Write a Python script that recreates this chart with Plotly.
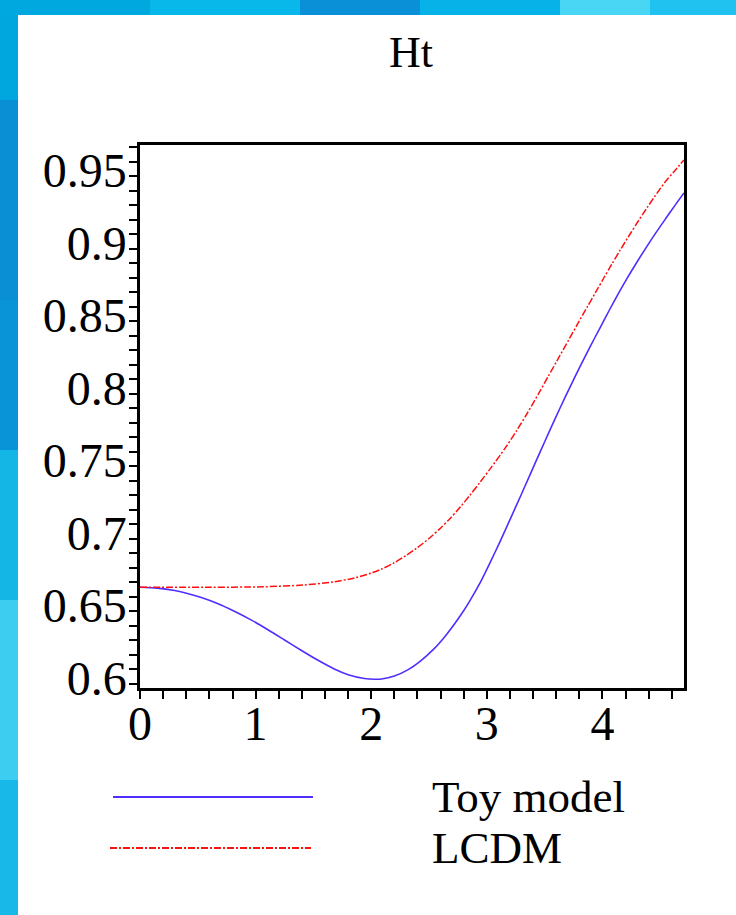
import plotly.graph_objects as go

# ---- data ----
toy_x = [0, 0.15, 0.30, 0.41, 0.53, 0.67, 0.82, 0.96, 1.11, 1.25, 1.40, 1.54, 1.68,
         1.80, 1.94, 2.03, 2.09, 2.20, 2.32, 2.42, 2.54, 2.65, 2.77, 2.85, 2.94,
         3.03, 3.11, 3.20, 3.29, 3.37, 3.46, 3.55, 3.63, 3.72, 3.81, 3.89, 3.98,
         4.06, 4.13, 4.21, 4.30, 4.39, 4.47, 4.55, 4.63, 4.705]
toy_y = [0.6667, 0.6661, 0.6644, 0.6624, 0.6596, 0.6555, 0.6500, 0.6442, 0.6372,
         0.6303, 0.6229, 0.6163, 0.6103, 0.6064, 0.6038, 0.6032, 0.6034, 0.6055,
         0.6099, 0.6154, 0.6240, 0.6340, 0.6470, 0.6570, 0.6695, 0.6840, 0.6975,
         0.7133, 0.7293, 0.7437, 0.7599, 0.7759, 0.7898, 0.8049, 0.8195, 0.8321,
         0.8458, 0.8579, 0.8681, 0.8793, 0.8912, 0.9025, 0.9121, 0.9213, 0.9304,
         0.9386]

lcdm_x = [0, 0.6, 1.06, 1.41, 1.68, 1.86, 2.00, 2.09, 2.19, 2.30, 2.39, 2.51,
          2.59, 2.68, 2.77, 2.85, 2.94, 3.03, 3.17, 3.26, 3.35, 3.46, 3.53, 3.63,
          3.71, 3.78, 3.87, 3.94, 4.01, 4.08, 4.15, 4.24, 4.31, 4.39, 4.45, 4.54,
          4.62, 4.705]
lcdm_y = [0.6667, 0.6667, 0.6670, 0.6682, 0.6705, 0.6732, 0.6765, 0.6793, 0.6832,
          0.6885, 0.6935, 0.7010, 0.7068, 0.7140, 0.7220, 0.7298, 0.7390, 0.7485,
          0.7640, 0.7750, 0.7868, 0.8020, 0.8120, 0.8262, 0.8376, 0.8476, 0.8603,
          0.8700, 0.8798, 0.8894, 0.8988, 0.9105, 0.9193, 0.9290, 0.9360, 0.9460,
          0.9535, 0.9614]

series_names = ["Toy model", "LCDM"]
title_text = "Ht"
x_ticks = [0, 1, 2, 3, 4]
y_ticks = [0.6, 0.65, 0.7, 0.75, 0.8, 0.85, 0.9, 0.95]
y_tick_labels = ["0.6", "0.65", "0.7", "0.75", "0.8", "0.85", "0.9", "0.95"]

# ---- layout geometry (pixels) ----
W, H = 736, 915
L, R, T, B = 140, 684, 145, 688
pw, ph = R - L, B - T

def px(x):
    return (x - L) / pw

def py(y):
    return (B - y) / ph

FONT = "Liberation Serif, Times New Roman, serif"
BLUE = "#4f2eff"
RED = "#ff1010"
DASH = "7px,2px,2px,2px"

fig = go.Figure()
fig.add_trace(go.Scatter(x=toy_x, y=toy_y, mode="lines", name=series_names[0],
                         line=dict(color=BLUE, width=1.6, shape="spline", smoothing=0.8),
                         showlegend=False))
fig.add_trace(go.Scatter(x=lcdm_x, y=lcdm_y, mode="lines", name=series_names[1],
                         line=dict(color=RED, width=1.5, shape="spline", smoothing=0.8,
                                   dash=DASH),
                         showlegend=False))

shapes = []
# blue slide border (approximate gradient with bands)
left_bands = [(0, 100, "#00a6de"), (100, 300, "#0a8fd4"), (300, 450, "#0a94d8"),
              (450, 600, "#14b6e6"), (600, 780, "#3ccdf0"), (780, 915, "#18b8e8")]
for y0, y1, c in left_bands:
    shapes.append(dict(type="rect", xref="paper", yref="paper",
                       x0=px(0), x1=px(18), y0=py(y1), y1=py(y0),
                       fillcolor=c, line=dict(width=0), layer="above"))
top_bands = [(0, 150, "#00a8e0"), (150, 300, "#08b8ea"), (300, 420, "#0a90d6"),
             (420, 560, "#06b2e8"), (560, 650, "#48d6f4"), (650, 736, "#20c2f0")]
for x0, x1, c in top_bands:
    shapes.append(dict(type="rect", xref="paper", yref="paper",
                       x0=px(x0), x1=px(x1), y0=py(15), y1=py(0),
                       fillcolor=c, line=dict(width=0), layer="above"))

# legend samples
shapes.append(dict(type="line", xref="paper", yref="paper",
                   x0=px(113), x1=px(313), y0=py(797), y1=py(797),
                   line=dict(color=BLUE, width=1.8)))
shapes.append(dict(type="line", xref="paper", yref="paper",
                   x0=px(110), x1=px(311), y0=py(848), y1=py(848),
                   line=dict(color=RED, width=1.8, dash=DASH)))

annotations = [
    dict(text=title_text, xref="paper", yref="paper", x=px(411), y=py(52),
         xanchor="center", yanchor="middle", showarrow=False,
         font=dict(family=FONT, size=44, color="black")),
    dict(text=series_names[0], xref="paper", yref="paper", x=px(430), y=py(797),
         xanchor="left", yanchor="middle", showarrow=False,
         font=dict(family=FONT, size=45, color="black")),
    dict(text=series_names[1], xref="paper", yref="paper", x=px(430), y=py(848),
         xanchor="left", yanchor="middle", showarrow=False,
         font=dict(family=FONT, size=45, color="black")),
]

fig.update_layout(
    width=W, height=H,
    margin=dict(l=L, r=W - R, t=T, b=H - B, pad=0),
    paper_bgcolor="white", plot_bgcolor="white",
    shapes=shapes, annotations=annotations,
    showlegend=False,
    font=dict(family=FONT, size=48, color="black"),
)
fig.update_xaxes(range=[0, 4.705], tickvals=x_ticks, ticktext=[str(v) for v in x_ticks],
                 ticks="outside", ticklen=8, tickwidth=2, tickcolor="black",
                 minor=dict(dtick=0.2, ticks="outside", ticklen=8, tickwidth=2, tickcolor="black"),
                 showline=True, linecolor="black", linewidth=2.5, mirror=True,
                 showgrid=False, zeroline=False, ticklabelstandoff=-16,
                 tickfont=dict(family=FONT, size=48, color="black"))
fig.update_yaxes(range=[0.5972, 0.9717], tickvals=y_ticks, ticktext=y_tick_labels,
                 ticks="outside", ticklen=8, tickwidth=2, tickcolor="black",
                 minor=dict(dtick=0.01, ticks="outside", ticklen=8, tickwidth=2, tickcolor="black"),
                 showline=True, linecolor="black", linewidth=2.5, mirror=True,
                 showgrid=False, zeroline=False, ticklabelstandoff=-7, ticklabelshift=-6,
                 tickfont=dict(family=FONT, size=48, color="black"))

fig.write_html("out.html", config={"displayModeBar": False},
               post_script="document.body.style.margin='0';document.body.style.overflow='hidden';")
